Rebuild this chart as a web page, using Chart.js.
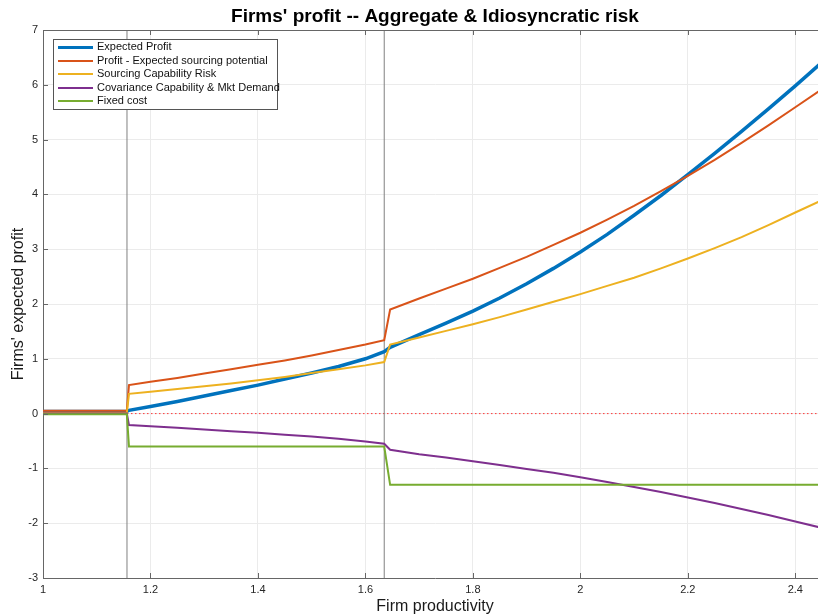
<!DOCTYPE html>
<html>
<head>
<meta charset="utf-8">
<script src="https://cdn.jsdelivr.net/npm/chart.js@4.4.1/dist/chart.umd.min.js"></script>
<style>
    html, body { margin: 0; padding: 0; overflow: hidden; background: #fff; width: 818px; height: 614px; }
    #wrap { position: absolute; left: 0; top: 0; width: 830px; height: 614px; }
    #legend { position: absolute; left: 53px; top: 39px; width: 225px; height: 71px; border: 1px solid #555; background: #fff;
              font: 11px 'Liberation Sans', Arial, sans-serif; color: #111; box-sizing: border-box; }
    .row { position: relative; height: 13.5px; line-height: 13.5px; padding-left: 43px; white-space: nowrap; }
    .row i { position: absolute; left: 4px; top: 6px; width: 35px; height: 2px; }
</style>
</head>
<body>
<div id="wrap">
    <canvas id="profitChart" width="830" height="614"></canvas>
    <div id="legend"></div>
</div>
<script>
    // firm productivity grid (x) and the five profit components
    const productivity   = [1, 1.156, 1.16, 1.2, 1.25, 1.3, 1.35, 1.4, 1.45, 1.5, 1.55, 1.6, 1.635, 1.646, 1.7, 1.75, 1.8, 1.85, 1.9, 1.95, 2.0, 2.05, 2.1, 2.15, 2.2, 2.25, 2.3, 2.35, 2.4, 2.46];
    const expectedProfit = [0.04, 0.04, 0.06, 0.13, 0.22, 0.32, 0.42, 0.52, 0.63, 0.74, 0.86, 1.0, 1.13, 1.21, 1.44, 1.65, 1.87, 2.11, 2.37, 2.65, 2.95, 3.27, 3.62, 3.98, 4.36, 4.75, 5.15, 5.56, 5.98, 6.5];
    const profitMinusSrc = [0.05, 0.05, 0.52, 0.58, 0.65, 0.73, 0.81, 0.89, 0.97, 1.06, 1.16, 1.26, 1.34, 1.9, 2.1, 2.28, 2.46, 2.66, 2.86, 3.08, 3.3, 3.54, 3.79, 4.06, 4.34, 4.63, 4.94, 5.26, 5.59, 5.99];
    const sourcingRisk   = [0.01, 0.01, 0.36, 0.4, 0.45, 0.5, 0.55, 0.61, 0.67, 0.74, 0.81, 0.88, 0.94, 1.26, 1.39, 1.51, 1.63, 1.76, 1.9, 2.04, 2.18, 2.33, 2.48, 2.65, 2.83, 3.02, 3.22, 3.44, 3.67, 3.94];
    const covariance     = [0, 0, -0.21, -0.23, -0.26, -0.29, -0.32, -0.35, -0.385, -0.42, -0.46, -0.51, -0.55, -0.66, -0.74, -0.8, -0.87, -0.94, -1.01, -1.08, -1.16, -1.25, -1.34, -1.43, -1.53, -1.63, -1.74, -1.85, -1.97, -2.11];
    const fixedCost      = [-0.01, -0.01, -0.6, -0.6, -0.6, -0.6, -0.6, -0.6, -0.6, -0.6, -0.6, -0.6, -0.6, -1.3, -1.3, -1.3, -1.3, -1.3, -1.3, -1.3, -1.3, -1.3, -1.3, -1.3, -1.3, -1.3, -1.3, -1.3, -1.3, -1.3];

    const cutoffs = [1.1563, 1.635];   // entry thresholds (vertical lines)
    const xTicks = [1, 1.2, 1.4, 1.6, 1.8, 2, 2.2, 2.4];
    const yTicks = [-3, -2, -1, 0, 1, 2, 3, 4, 5, 6, 7];
    const xRange = [1, 2.459];
    const yRange = [-3, 7];

    const series = [
        { label: 'Expected Profit', values: expectedProfit, color: '#0072BD', width: 3.5 },
        { label: 'Profit - Expected sourcing potential', values: profitMinusSrc, color: '#D95319', width: 2 },
        { label: 'Sourcing Capability Risk', values: sourcingRisk, color: '#EDB120', width: 2 },
        { label: 'Covariance Capability & Mkt Demand', values: covariance, color: '#7E2F8E', width: 2 },
        { label: 'Fixed cost', values: fixedCost, color: '#77AC30', width: 2 }
    ];

    const FONT = "'Liberation Sans', Arial, Helvetica, sans-serif";

    const datasets = series.map((s, i) => ({
        label: s.label,
        data: productivity.map((x, k) => ({ x: x, y: s.values[k] })),
        borderColor: s.color,
        borderWidth: s.width,
        pointRadius: 0,
        tension: 0,
        order: series.length - i
    }));
    cutoffs.forEach(c => datasets.push({
        data: [{ x: c, y: yRange[0] }, { x: c, y: yRange[1] }],
        borderColor: '#808080', borderWidth: 1, pointRadius: 0, order: 10
    }));
    datasets.push({
        data: [{ x: xRange[0], y: 0 }, { x: xRange[1], y: 0 }],
        borderColor: '#ff3b3b', borderWidth: 1, borderDash: [1.5, 2.5], pointRadius: 0, order: 11
    });

    // MATLAB-style inward ticks and top box edge
    const innerTicks = {
        id: 'innerTicks',
        afterDraw(chart) {
            const { ctx, chartArea: a, scales } = chart;
            ctx.save();
            ctx.strokeStyle = '#666';
            ctx.lineWidth = 1;
            ctx.beginPath();
            ctx.moveTo(a.left, a.top + 0.5); ctx.lineTo(a.right, a.top + 0.5);
            scales.x.ticks.forEach(t => {
                const px = Math.round(scales.x.getPixelForValue(t.value)) + 0.5;
                ctx.moveTo(px, a.bottom); ctx.lineTo(px, a.bottom - 5);
                ctx.moveTo(px, a.top); ctx.lineTo(px, a.top + 5);
            });
            scales.y.ticks.forEach(t => {
                const py = Math.round(scales.y.getPixelForValue(t.value)) + 0.5;
                ctx.moveTo(a.left, py); ctx.lineTo(a.left + 5, py);
            });
            ctx.stroke();
            ctx.restore();
        }
    };

    const ctx = document.getElementById('profitChart').getContext('2d');
    new Chart(ctx, {
        type: 'line',
        data: { datasets: datasets },
        options: {
            responsive: false,
            animation: false,
            layout: { padding: { left: 0, right: 3, top: 0, bottom: 0 } },
            plugins: {
                legend: { display: false },
                tooltip: { enabled: false },
                title: {
                    display: true, fullSize: false,
                    text: "Firms' profit -- Aggregate & Idiosyncratic risk",
                    color: '#000', font: { family: FONT, size: 19, weight: 'bold' },
                    padding: { top: 5.5, bottom: 1.7 }
                }
            },
            scales: {
                x: {
                    type: 'linear', min: xRange[0], max: xRange[1],
                    afterBuildTicks: s => { s.ticks = xTicks.map(v => ({ value: v })); },
                    afterFit: s => { s.height = 36; },
                    ticks: { font: { family: FONT, size: 11 }, color: '#262626', padding: 5, maxRotation: 0, autoSkip: false, callback: v => String(v) },
                    grid: { color: '#ebebeb', drawTicks: false },
                    border: { color: '#666' },
                    title: { display: true, text: 'Firm productivity', color: '#1a1a1a', font: { family: FONT, size: 16 }, padding: { top: 0, bottom: -2 } }
                },
                y: {
                    type: 'linear', min: yRange[0], max: yRange[1],
                    afterBuildTicks: s => { s.ticks = yTicks.map(v => ({ value: v })); },
                    afterFit: s => { s.width = 43; },
                    ticks: { font: { family: FONT, size: 11 }, color: '#262626', padding: 5, callback: v => String(v) },
                    grid: { color: '#ebebeb', drawTicks: false },
                    border: { color: '#666' },
                    title: { display: true, text: "Firms' expected profit", color: '#1a1a1a', font: { family: FONT, size: 16 }, padding: { top: 9, bottom: 0 } }
                }
            }
        },
        plugins: [innerTicks]
    });

    // legend box in the upper-left corner of the axes
    const legendEl = document.getElementById('legend');
    series.forEach(s => {
        const row = document.createElement('div');
        row.className = 'row';
        row.innerHTML = '<i style="background:' + s.color + ';height:' + (s.width > 3 ? 3 : 2) + 'px"></i>' + s.label;
        legendEl.appendChild(row);
    });
</script>
</body>
</html>
